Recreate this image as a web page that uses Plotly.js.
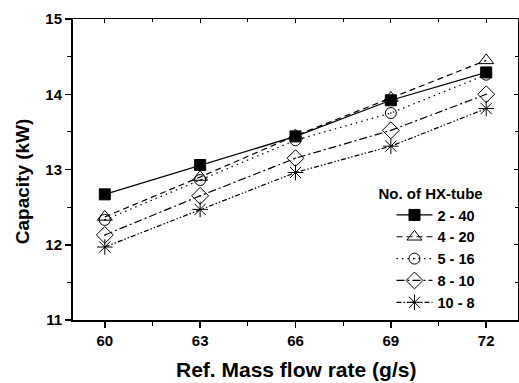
<!DOCTYPE html>
<html>
<head>
<meta charset="utf-8">
<script src="https://cdn.plot.ly/plotly-3.0.1.min.js"></script>
<style>html,body{margin:0;padding:0;background:#fff}#chart{width:519px;height:383px}</style>
</head>
<body>
<div id="chart"></div>
<script>
const flowRate = [60, 63, 66, 69, 72];
const seriesNames = ['2 - 40', '4 - 20', '5 - 16', '8 - 10', '10 - 8'];
const cap_2_40 = [12.67, 13.06, 13.44, 13.92, 14.29];
const cap_4_20 = [12.37, 12.90, 13.45, 13.95, 14.45];
const cap_5_16 = [12.33, 12.86, 13.39, 13.75, 14.26];
const cap_8_10 = [12.13, 12.65, 13.15, 13.52, 14.00];
const cap_10_8 = [11.97, 12.47, 12.96, 13.31, 13.81];
const xTicks = [60, 63, 66, 69, 72];
const yTicks = [11, 12, 13, 14, 15];

const FONT = 'Liberation Sans, Arial, sans-serif';
const styles = [
  {dash: 'solid', symbol: 'square', size: 11},
  {dash: '6px,4px', symbol: 'triangle-up-open', size: 13},
  {dash: '1.5px,4px', symbol: 'circle-open-dot', size: 11},
  {dash: '8px,3px,2px,3px', symbol: 'diamond-open-dot', size: 13},
  {dash: '5px,2px,1.5px,2px,1.5px,2px', symbol: 'asterisk-open', size: 13}
];
const values = [cap_2_40, cap_4_20, cap_5_16, cap_8_10, cap_10_8];

const traces = values.map((v, i) => ({
  x: flowRate, y: v, name: seriesNames[i], type: 'scatter', mode: 'lines+markers',
  line: {color: '#000', width: 1.2, dash: styles[i].dash},
  marker: {symbol: styles[i].symbol, size: styles[i].size, color: '#000',
           line: {color: '#000', width: 1}}
}));
traces.push({x: [], y: [], xaxis: 'x2', yaxis: 'y2', showlegend: false, hoverinfo: 'skip'});

const tickFont = {family: FONT, size: 15, color: '#000', weight: 'bold'};

const layout = {
  width: 519, height: 383,
  margin: {l: 73, r: 1, t: 19, b: 63},
  paper_bgcolor: '#fff', plot_bgcolor: '#fff',
  showlegend: true,
  xaxis: {range: [59, 73], tickvals: xTicks, ticktext: xTicks.map(String),
          ticks: 'outside', ticklen: 6, tickwidth: 1.5, tickcolor: '#000',
          minor: {dtick: 1.5, tick0: 60, ticks: 'outside', ticklen: 4, tickwidth: 1, tickcolor: '#000'},
          showline: true, linewidth: 2, linecolor: '#000', showgrid: false, zeroline: false,
          tickfont: tickFont, mirror: false},
  yaxis: {range: [11, 15], tickvals: yTicks, ticktext: yTicks.map(String),
          ticks: 'outside', ticklen: 6, tickwidth: 1.5, tickcolor: '#000',
          minor: {dtick: 0.5, tick0: 11, ticks: 'outside', ticklen: 4, tickwidth: 1, tickcolor: '#000'},
          showline: true, linewidth: 2, linecolor: '#000', showgrid: false, zeroline: false,
          tickfont: tickFont, mirror: false},
  xaxis2: {overlaying: 'x', side: 'top', anchor: 'y', range: [59, 73], tickvals: xTicks,
           showticklabels: false, ticks: 'inside', ticklen: 4, tickcolor: '#000', tickwidth: 1,
           minor: {dtick: 1.5, tick0: 60, ticks: 'inside', ticklen: 3, tickcolor: '#000'},
           showline: true, linewidth: 1, linecolor: '#000', showgrid: false, zeroline: false},
  yaxis2: {overlaying: 'y', side: 'right', anchor: 'x', range: [11, 15], tickvals: yTicks,
           showticklabels: false, ticks: 'inside', ticklen: 4, tickcolor: '#000', tickwidth: 1,
           minor: {dtick: 0.5, tick0: 11, ticks: 'inside', ticklen: 3, tickcolor: '#000'},
           showline: true, linewidth: 1, linecolor: '#000', showgrid: false, zeroline: false},
  legend: {x: 0.682, xanchor: 'left', y: 0.005, yanchor: 'bottom',
           bgcolor: 'rgba(0,0,0,0)', borderwidth: 0,
           title: {text: 'No. of HX-tube', font: {family: FONT, size: 15, color: '#000', weight: 'bold'}},
           font: {family: FONT, size: 14.5, color: '#000', weight: 'bold'},
           tracegroupgap: 0, itemwidth: 36, indentation: 15},
  annotations: [
    {text: 'Ref. Mass flow rate (g/s)', xref: 'paper', yref: 'paper', x: 0.5, y: -0.163,
     xanchor: 'center', yanchor: 'middle', showarrow: false,
     font: {family: FONT, size: 21, color: '#000', weight: 'bold'}},
    {text: 'Capacity (kW)', xref: 'paper', yref: 'paper', x: -0.113, y: 0.46,
     xanchor: 'center', yanchor: 'middle', showarrow: false, textangle: -90,
     font: {family: FONT, size: 19, color: '#000', weight: 'bold'}}
  ]
};

Plotly.newPlot('chart', traces, layout, {displayModeBar: false, staticPlot: true});
</script>
</body>
</html>
